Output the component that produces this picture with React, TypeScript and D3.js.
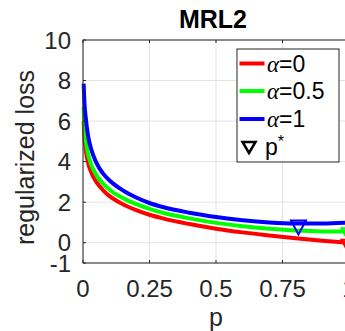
import React from "react";
import * as d3 from "d3";

// values
const pValues = [0.0025, 0.005, 0.01, 0.02, 0.03, 0.05, 0.075, 0.1, 0.15, 0.2, 0.25, 0.3, 0.4, 0.5, 0.6, 0.7, 0.8, 0.9, 1.0];
const lossAlpha0 = [6.0, 5.3, 4.6, 3.9, 3.5, 3.0, 2.6, 2.3, 1.9, 1.61, 1.38, 1.2, 0.92, 0.69, 0.51, 0.36, 0.22, 0.1, 0.0];
const lossAlpha05 = [6.7, 5.9, 5.1, 4.32, 3.88, 3.34, 2.92, 2.61, 2.2, 1.9, 1.67, 1.48, 1.2, 0.98, 0.81, 0.69, 0.6, 0.56, 0.56];
const lossAlpha1 = [7.85, 7.0, 6.2, 5.2, 4.65, 3.95, 3.42, 3.07, 2.58, 2.23, 1.96, 1.76, 1.48, 1.27, 1.11, 1.0, 0.95, 0.95, 1.0];

const seriesLabels = ["0", "0.5", "1"];
const seriesColors = ["#ff0000", "#00ff00", "#0000ff"];
const pStar = [1.0, 1.0, 0.81];
const lossStar = [0.0, 0.56, 0.95];

const xTicks = [0, 0.25, 0.5, 0.75, 1];
const xTickLabels = ["0", "0.25", "0.5", "0.75", "1"];
const yTicks = [-1, 0, 2, 4, 6, 8, 10];

const W = 345;
const H = 331;
const margin = { top: 40, right: -4, bottom: 68, left: 83 };
const font = "'Liberation Sans', Arial, Helvetica, sans-serif";
const axisColor = "#262626";

const App: React.FC = () => {
  const x = d3.scaleLinear().domain([0, 1]).range([margin.left, W - margin.right]);
  const y = d3.scaleLinear().domain([-1, 10]).range([H - margin.bottom, margin.top]);

  const line = d3
    .line<number>()
    .x((_, i) => x(pValues[i]))
    .y((d) => y(d))
    .curve(d3.curveMonotoneX);

  const series = [lossAlpha0, lossAlpha05, lossAlpha1];
  const tri = (cx: number, cy: number, w: number, h: number, up: number) =>
    `M${cx - w / 2},${cy - up}L${cx + w / 2},${cy - up}L${cx},${cy - up + h}Z`;

  const x0 = x(0);
  const x1 = x(1);
  const yTop = y(10);
  const yBot = y(-1);

  const legend = { x: 237, y: 49, w: 102, h: 113, rowY: [63.5, 91, 119, 147] };

  return (
    <svg
      width={W}
      height={H}
      style={{ position: "absolute", left: 0, top: 0, background: "#fff" }}
      fontFamily={font}
    >
      {/* grid */}
      {xTicks.map((t) => (
        <line key={"gx" + t} x1={x(t)} x2={x(t)} y1={yTop} y2={yBot} stroke="#e3e3e3" />
      ))}
      {yTicks.map((t) => (
        <line key={"gy" + t} x1={x0} x2={x1} y1={y(t)} y2={y(t)} stroke="#e3e3e3" />
      ))}

      {/* curves */}
      {series.map((s, i) => (
        <path key={"s" + i} d={line(s) || ""} fill="none" stroke={seriesColors[i]} strokeWidth={4} />
      ))}

      {/* p* markers */}
      {pStar.map((p, i) => (
        <path
          key={"m" + i}
          d={tri(x(p), y(lossStar[i]), 15, 14, 3)}
          fill="none"
          stroke={seriesColors[i]}
          strokeWidth={2}
        />
      ))}

      {/* axes box */}
      <rect x={x0} y={yTop} width={x1 - x0} height={yBot - yTop} fill="none" stroke={axisColor} strokeWidth={1} />
      {xTicks.map((t) => (
        <g key={"tx" + t}>
          <line x1={x(t)} x2={x(t)} y1={yBot} y2={yBot - 3} stroke={axisColor} />
          <line x1={x(t)} x2={x(t)} y1={yTop} y2={yTop + 3} stroke={axisColor} />
        </g>
      ))}
      {yTicks.map((t) => (
        <line key={"ty" + t} x1={x0} x2={x0 + 3} y1={y(t)} y2={y(t)} stroke={axisColor} />
      ))}

      {/* tick labels */}
      {xTicks.map((t, i) => (
        <text key={"lx" + t} x={x(t)} y={296.5} textAnchor="middle" fontSize={24} fill={axisColor}>
          {xTickLabels[i]}
        </text>
      ))}
      {yTicks.map((t) => (
        <text key={"ly" + t} x={71} y={y(t)} dy="0.36em" textAnchor="end" fontSize={24} fill={axisColor}>
          {t}
        </text>
      ))}

      {/* labels */}
      <text x={(x0 + x1) / 2} y={326} textAnchor="middle" fontSize={25} fill={axisColor}>
        p
      </text>
      <text
        transform={`translate(34,${(yTop + yBot) / 2 + 6}) rotate(-90)`}
        textAnchor="middle"
        fontSize={25}
        fill={axisColor}
      >
        regularized loss
      </text>
      <text x={213} y={28} textAnchor="middle" fontSize={25} fontWeight="bold" fill="#000">
        MRL2
      </text>

      {/* legend */}
      <rect x={legend.x} y={legend.y} width={legend.w} height={legend.h} fill="#fff" stroke={axisColor} strokeWidth={1} />
      {seriesLabels.map((lab, i) => (
        <g key={"lg" + i}>
          <line x1={239.5} x2={264.5} y1={legend.rowY[i]} y2={legend.rowY[i]} stroke={seriesColors[i]} strokeWidth={4} />
          <text x={267} y={legend.rowY[i]} dy="0.36em" fontSize={23} fill="#000">
            <tspan fontFamily="'Liberation Serif', serif" fontStyle="italic">
              α
            </tspan>
            <tspan>={lab}</tspan>
          </text>
        </g>
      ))}
      <path d={tri(249, legend.rowY[3], 13, 11, 5)} fill="none" stroke="#000" strokeWidth={2.5} />
      <text x={265} y={legend.rowY[3]} dy="0.36em" fontSize={23} fill="#000">
        p
        <tspan dy="-8" fontSize={16}>
          *
        </tspan>
      </text>
    </svg>
  );
};

export default App;
